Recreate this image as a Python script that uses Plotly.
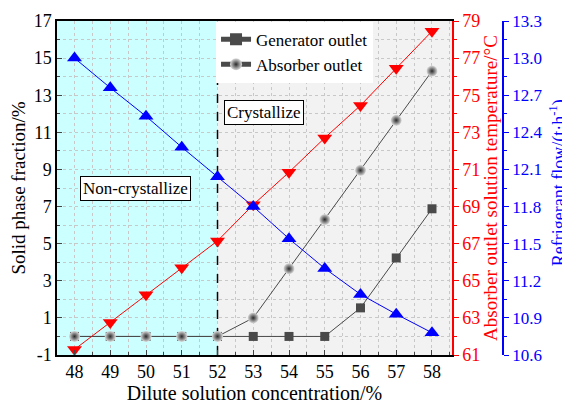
import plotly.graph_objects as go

conc = [48, 49, 50, 51, 52, 53, 54, 55, 56, 57, 58]
generator_outlet = [0, 0, 0, 0, 0, 0, 0, 0, 1.54, 4.23, 6.88]
absorber_outlet = [0, 0, 0, 0, 0, 1.0, 3.65, 6.3, 8.95, 11.65, 14.3]
absorber_temp = [61.3, 62.75, 64.25, 65.7, 67.15, 69.1, 70.85, 72.7, 74.45, 76.45, 78.45]
refrigerant_flow = [13.0, 12.76, 12.53, 12.28, 12.04, 11.80, 11.54, 11.30, 11.09, 10.93, 10.78]

left_ticks = [-1, 1, 3, 5, 7, 9, 11, 13, 15, 17]
left_labels = ["-1", "1", "3", "5", "7", "9", "11", "13", "15", "17"]
temp_ticks = [61, 63, 65, 67, 69, 71, 73, 75, 77, 79]
flow_ticks = [10.6, 10.9, 11.2, 11.5, 11.8, 12.1, 12.4, 12.7, 13.0, 13.3]
flow_labels = ["10.6", "10.9", "11.2", "11.5", "11.8", "12.1", "12.4", "12.7", "13.0", "13.3"]
boundary = 52

FONT = "Liberation Serif"
GRAY = "#4a4a4a"
XR = [47.51, 58.56]
YR = [-1, 17]

fig = go.Figure()
# boundary dashed line (drawn first so markers sit on top)
fig.add_trace(go.Scatter(
    x=[boundary, boundary], y=YR, mode="lines", showlegend=False, hoverinfo="skip",
    line=dict(color="black", width=1.5, dash="dash"), yaxis="y"))
fig.add_trace(go.Scatter(
    x=conc, y=generator_outlet, mode="lines+markers", name="Generator outlet",
    line=dict(color=GRAY, width=1),
    marker=dict(symbol="square", size=9, color=GRAY), yaxis="y"))
fig.add_trace(go.Scatter(
    x=conc, y=absorber_outlet, mode="lines+markers", name="Absorber outlet",
    line=dict(color=GRAY, width=1),
    marker=dict(symbol="circle", size=11, color="#dcdcdc",
                gradient=dict(type="radial", color="#2a2a2a"),
                line=dict(width=0)), yaxis="y"))
fig.add_trace(go.Scatter(
    x=conc, y=absorber_temp, mode="lines+markers", name="Absorber outlet temperature",
    line=dict(color="red", width=1),
    marker=dict(symbol="triangle-down", size=13, color="red"),
    yaxis="y2", showlegend=False))
fig.add_trace(go.Scatter(
    x=conc, y=refrigerant_flow, mode="lines+markers", name="Refrigerant flow",
    line=dict(color="blue", width=1),
    marker=dict(symbol="triangle-up", size=13, color="blue"),
    yaxis="y3", showlegend=False))

GRIDC = "#c8c8c8"

# page has an 8px body margin: figure is 562x400 placed at (8,8)
fig.update_layout(
    width=562, height=400,
    margin=dict(l=49, r=0, t=13, b=53, autoexpand=False),
    paper_bgcolor="white", plot_bgcolor="white",
    font=dict(family=FONT, size=18, color="black"),
    showlegend=True,
    legend=dict(x=0.31, y=0.998, xanchor="left", yanchor="top",
                bgcolor="white", borderwidth=0, font=dict(size=17),
                tracegroupgap=0, itemsizing="constant"),
    xaxis=dict(domain=[0, 0.77], range=XR,
               tickvals=conc, ticks="inside", ticklen=5,
               minor=dict(dtick=0.5, tick0=47.5, ticks="inside", ticklen=3, showgrid=True,
                          gridcolor=GRIDC, griddash="dot"),
               showline=True, linecolor="black", linewidth=1.5, mirror=True,
               title=dict(text="Dilute solution concentration/%", font=dict(size=20), standoff=4),
               showgrid=True, gridcolor=GRIDC, griddash="dot", zeroline=False),
    yaxis=dict(range=YR, tickvals=left_ticks, ticktext=left_labels,
               ticks="inside", ticklen=5,
               minor=dict(dtick=1, tick0=0, ticks="inside", ticklen=3, showgrid=True,
                          gridcolor=GRIDC, griddash="dot"),
               showline=True, linecolor="black", linewidth=1.5, mirror=False,
               title=dict(text="Solid phase fraction/%", font=dict(size=19), standoff=4),
               showgrid=True, gridcolor=GRIDC, griddash="dot", zeroline=False),
    yaxis2=dict(overlaying="y", side="right", anchor="x", range=[61, 79],
                tickvals=temp_ticks,
                ticks="outside", ticklen=5, tickcolor="red",
                minor=dict(dtick=1, tick0=61, ticks="outside", ticklen=3, tickcolor="red"),
                showline=True, linecolor="red", linewidth=1.5,
                tickfont=dict(color="red"),
                title=dict(text="Absorber outlet solution temperature/°C",
                           font=dict(size=19, color="red"), standoff=2),
                showgrid=False, zeroline=False),
    yaxis3=dict(overlaying="y", side="right", anchor="free", position=0.8694,
                range=[10.6, 13.3],
                tickvals=flow_ticks, ticktext=flow_labels,
                ticks="outside", ticklen=5, tickcolor="blue",
                minor=dict(dtick=0.15, tick0=10.6, ticks="outside", ticklen=3, tickcolor="blue"),
                showline=True, linecolor="blue", linewidth=1.5,
                tickfont=dict(color="blue", size=17),
                showgrid=False, zeroline=False),
    shapes=[
        dict(type="rect", xref="x", yref="y domain", x0=XR[0], x1=boundary, y0=0, y1=1,
             fillcolor="#ccffff", line=dict(width=0), layer="below"),
        dict(type="rect", xref="x", yref="y domain", x0=boundary, x1=XR[1], y0=0, y1=1,
             fillcolor="#f2f2f2", line=dict(width=0), layer="below"),
    ],
    annotations=[
        dict(x=49.7, y=7.95, xref="x", yref="y", text="Non-crystallize", showarrow=False,
             font=dict(size=17), bgcolor="white", bordercolor="black", borderwidth=1, borderpad=2),
        dict(x=53.31, y=12.05, xref="x", yref="y", text="Crystallize", showarrow=False,
             font=dict(size=17), bgcolor="white", bordercolor="black", borderwidth=1, borderpad=2),
        dict(x=0.977, y=0.515, xref="paper", yref="paper", textangle=-90,
             text="Refrigerant flow/(t·h<sup>-1</sup>)", showarrow=False,
             font=dict(size=18, color="blue"), xanchor="center", yanchor="middle"),
    ],
)

fig.write_html("out.html")
